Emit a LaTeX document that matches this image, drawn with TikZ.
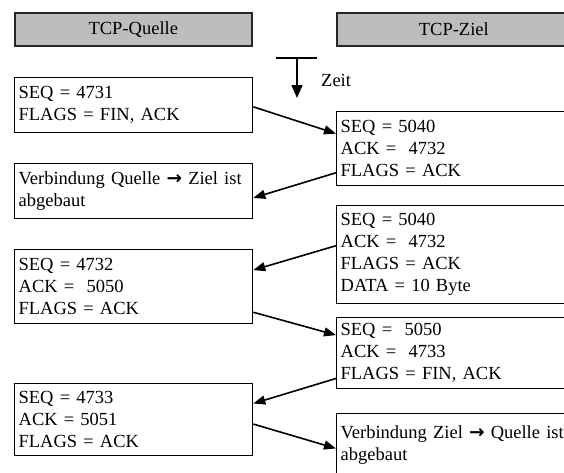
\documentclass[tikz,border=0pt]{standalone}
\usepackage{fontspec}
\setmainfont{Liberation Serif}
\newfontfamily\arrowfont{DejaVu Sans}
\newcommand{\pointsto}{{\arrowfont\bfseries →}}
\usetikzlibrary{arrows.meta,calc}
\begin{document}
\begin{tikzpicture}[x=1pt,y=-1pt,
  txt/.style={font=\fontsize{18.5}{22}\selectfont},
  msg/.style={txt, draw=black, line width=1.3pt, anchor=north west,
    inner xsep=4pt, inner ysep=0pt, text width=230pt, align=left,
    minimum width=238pt},
  hdr/.style={txt, draw=black!85, line width=1.6pt, fill=black!26,
    anchor=north west, minimum height=33pt, inner sep=0pt},
  arr/.style={line width=1.6pt, -{Triangle[length=12pt,width=9pt]}}]
\useasboundingbox (0,0) rectangle (564,472);
\clip (0,0) rectangle (564,472);

% column headers
\node[hdr, minimum width=237pt] (src) at (14,12) {TCP-Quelle};
\node[hdr, minimum width=234pt] (dst) at (336,12) {TCP-Ziel};

% time axis
\coordinate (tl) at (276,58);
\coordinate (tr) at (317,58);
\coordinate (tt) at (297,58);
\coordinate (tb) at (297,98);
\draw[line width=1.6pt] (tl) -- (tr);
\draw[line width=1.6pt, -{Triangle[length=13pt,width=11pt]}] (tt) -- (tb);
\node[txt, anchor=west, inner sep=0pt] (zeit) at (321,80) {Zeit};

% segments of the source side
\node[msg, minimum height=55pt] (q1) at (14,77) {SEQ = 4731\\FLAGS = FIN, ACK};
\node[msg, minimum height=55pt] (q2) at (14,163) {Verbindung Quelle \pointsto{} Ziel ist\\abgebaut};
\node[msg, minimum height=74pt] (q3) at (14,249) {SEQ = 4732\\ACK =\ \ 5050\\FLAGS = ACK};
\node[msg, minimum height=72pt] (q4) at (14,383) {SEQ = 4733\\ACK = 5051\\FLAGS = ACK};

% segments of the destination side
\node[msg, minimum height=74pt] (z1) at (336,111) {SEQ = 5040\\ACK =\ \ 4732\\FLAGS = ACK};
\node[msg, minimum height=98pt] (z2) at (336,205) {SEQ = 5040\\ACK =\ \ 4732\\FLAGS = ACK\\DATA = 10 Byte};
\node[msg, minimum height=71pt] (z3) at (336,317) {SEQ =\ \ 5050\\ACK =\ \ 4733\\FLAGS = FIN, ACK};
\node[msg, minimum height=62pt] (z4) at (336,413) {Verbindung Ziel \pointsto{} Quelle ist\\abgebaut};

% exchanged segments
\draw[arr] ($(q1.north east)!0.53!(q1.south east)$) -- ($(z1.north west)!0.30!(z1.south west)$);
\draw[arr] ($(z1.north west)!0.82!(z1.south west)$) -- ($(q2.north east)!0.62!(q2.south east)$);
\draw[arr] ($(z2.north west)!0.41!(z2.south west)$) -- ($(q3.north east)!0.28!(q3.south east)$);
\draw[arr] ($(q3.north east)!0.84!(q3.south east)$) -- ($(z3.north west)!0.25!(z3.south west)$);
\draw[arr] ($(z3.north west)!0.85!(z3.south west)$) -- ($(q4.north east)!0.28!(q4.south east)$);
\draw[arr] ($(q4.north east)!0.56!(q4.south east)$) -- ($(z4.north west)!0.56!(z4.south west)$);
\end{tikzpicture}
\end{document}
